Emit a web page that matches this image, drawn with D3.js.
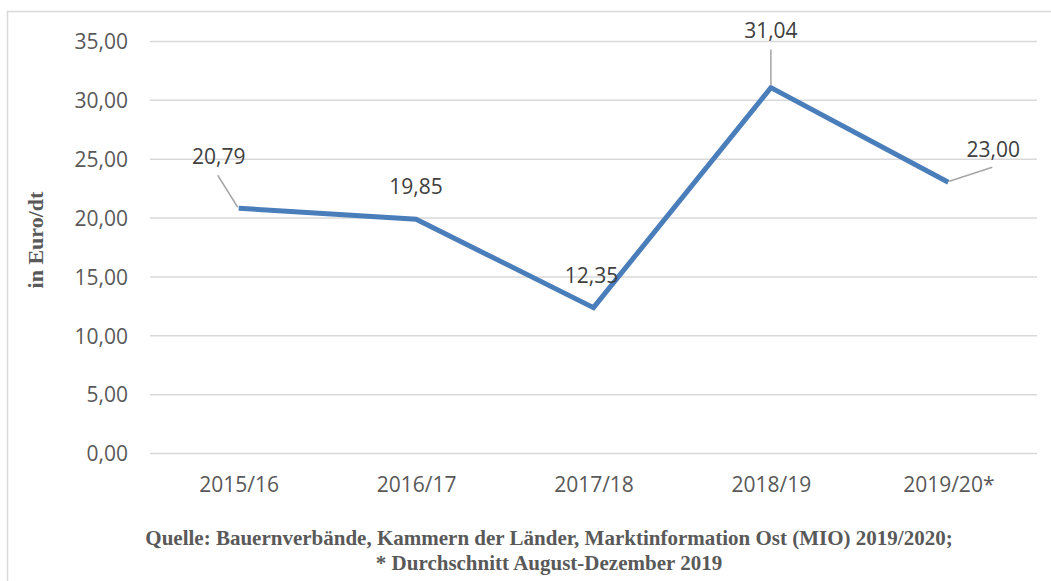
<!DOCTYPE html>
<html>
<head>
<meta charset="utf-8">
<script src="https://cdn.jsdelivr.net/npm/d3@7"></script>
<style>
  body { margin: 0; background: #fff; }
  svg { display: block; }
</style>
</head>
<body>
<div id="chart"></div>
<script>
(function () {
    "use strict";

    // chart data
    var categories = ["2015/16", "2016/17", "2017/18", "2018/19", "2019/20*"];
    var values = [20.79, 19.85, 12.35, 31.04, 23.00];
    var yTicks = [0, 5, 10, 15, 20, 25, 30, 35];

    var w = 1051, h = 581;
    var left = 150, right = 1037, top = 41, bottom = 453;
    var sans = "'Open Sans', 'Noto Sans', sans-serif";
    var serif = "'Liberation Serif', 'DejaVu Serif', serif";

    var svg = d3.select("#chart").append("svg")
        .attr("width", w)
        .attr("height", h);

    // outer frame
    svg.append("rect")
        .attr("x", 7.5).attr("y", 11.5)
        .attr("width", 1060).attr("height", 600)
        .attr("fill", "none")
        .attr("stroke", "#d9d9d9")
        .attr("stroke-width", 1.5);

    var x = d3.scalePoint().domain(categories).range([left, right]).padding(0.5);
    var y = d3.scaleLinear().domain([0, 35]).range([bottom, top]);

    var fmt = function (d) { return d3.format(".2f")(d).replace(".", ","); };

    // gridlines + y labels
    var yAxis = d3.axisLeft(y).tickValues(yTicks).tickSize(-(right - left)).tickFormat(fmt).tickPadding(22);
    var gy = svg.append("g").attr("transform", "translate(" + left + ",0)").call(yAxis);
    gy.select(".domain").remove();
    gy.selectAll(".tick line").attr("stroke", "#d9d9d9").attr("stroke-width", 1.5);
    gy.selectAll(".tick text")
        .attr("fill", "#595959")
        .attr("dy", "0.37em")
        .style("font-family", sans)
        .style("font-size", "21px");

    // x labels
    var xAxis = d3.axisBottom(x).tickSize(0).tickPadding(24);
    var gx = svg.append("g").attr("transform", "translate(0," + bottom + ")").call(xAxis);
    gx.select(".domain").remove();
    gx.selectAll(".tick text")
        .attr("fill", "#595959")
        .style("font-family", sans)
        .style("font-size", "21px");

    // line
    var line = d3.line()
        .x(function (d, i) { return x(categories[i]); })
        .y(function (d) { return y(d); });

    svg.append("path")
        .datum(values)
        .attr("d", line)
        .attr("fill", "none")
        .attr("stroke", "#4a7ebb")
        .attr("stroke-width", 5)
        .attr("stroke-linejoin", "miter");

    // data labels: offsets relative to the point, leader lines where the label sits apart
    var labelOffsets = [
        { dx: -20, dy: -44, leader: [[-21, -33], [-1, -1]] },
        { dx: 0, dy: -25, leader: null },
        { dx: -2, dy: -25, leader: null },
        { dx: 0, dy: -50, leader: [[0, -38], [0, -2]] },
        { dx: 45, dy: -25, leader: [[44, -15], [1, -1]] }
    ];

    values.forEach(function (v, i) {
        var px = x(categories[i]), py = y(v);
        var o = labelOffsets[i];
        if (o.leader) {
            svg.append("line")
                .attr("x1", px + o.leader[0][0]).attr("y1", py + o.leader[0][1])
                .attr("x2", px + o.leader[1][0]).attr("y2", py + o.leader[1][1])
                .attr("stroke", "#a6a6a6")
                .attr("stroke-width", 1.5);
        }
        svg.append("text")
            .attr("x", px + o.dx)
            .attr("y", py + o.dy)
            .attr("text-anchor", "middle")
            .attr("fill", "#404040")
            .style("font-family", sans)
            .style("font-size", "21px")
            .text(fmt(v));
    });

    // y axis title
    svg.append("text")
        .attr("transform", "translate(43,240) rotate(-90)")
        .attr("text-anchor", "middle")
        .attr("fill", "#595959")
        .style("font-family", serif)
        .style("font-weight", "bold")
        .style("font-size", "22px")
        .text("in Euro/dt");

    // source caption
    var caption = ["Quelle: Bauernverbände, Kammern der Länder, Marktinformation Ost (MIO) 2019/2020;",
                   "* Durchschnitt August-Dezember 2019"];
    caption.forEach(function (c, i) {
        svg.append("text")
            .attr("x", 549)
            .attr("y", 545 + i * 25)
            .attr("text-anchor", "middle")
            .attr("fill", "#595959")
            .style("font-family", serif)
            .style("font-weight", "bold")
            .style("font-size", "21px")
            .text(c);
    });
})();
</script>
</body>
</html>
